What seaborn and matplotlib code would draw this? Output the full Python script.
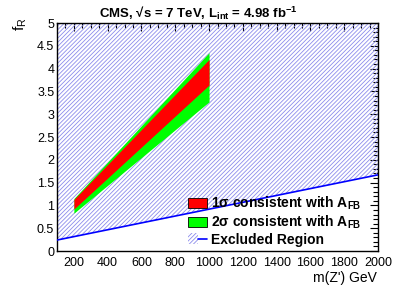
import matplotlib
matplotlib.use("Agg")
import matplotlib.pyplot as plt
import seaborn as sns
import numpy as np
from matplotlib.patches import Patch
from matplotlib.lines import Line2D
from matplotlib.legend_handler import HandlerTuple
from matplotlib.ticker import MultipleLocator

# ---- data ----
band_mass = [200, 1000]
sigma2_low = [0.83, 3.27]
sigma2_high = [1.15, 4.35]
sigma1_low = [0.92, 3.64]
sigma1_high = [1.13, 4.20]
excl_mass = [100, 2000]
excl_limit = [0.24, 1.67]
y_top = 5.0

legend_labels = [r"1$\mathbf{\sigma}$ consistent with A$_{\mathbf{FB}}$",
                 r"2$\mathbf{\sigma}$ consistent with A$_{\mathbf{FB}}$",
                 "Excluded Region"]

sns.set_theme(style="white")
plt.rcParams['font.family'] = ['Liberation Sans', 'DejaVu Sans']
plt.rcParams['mathtext.fontset'] = 'custom'
plt.rcParams['mathtext.rm'] = 'Liberation Sans'
plt.rcParams['mathtext.bf'] = 'Liberation Sans:bold'
plt.rcParams['mathtext.it'] = 'Liberation Sans:italic'
plt.rcParams['hatch.linewidth'] = 0.6
plt.rcParams['text.color'] = 'black'
plt.rcParams['xtick.color'] = 'black'
plt.rcParams['ytick.color'] = 'black'

fig = plt.figure(figsize=(4.07, 2.92), dpi=100)
ax = fig.add_axes([57/407, 41/292, 321/407, 228/292])

hatch_col = '#8c8cec'
hatch_pat = '////////'
ax.fill_between(excl_mass, excl_limit, [y_top, y_top], facecolor='none',
                edgecolor=hatch_col, linewidth=0, hatch=hatch_pat, zorder=1)
ax.fill_between(band_mass, sigma2_low, sigma2_high, color='#00ff00', linewidth=0, zorder=2)
ax.fill_between(band_mass, sigma1_low, sigma1_high, color='#ff0000', linewidth=0, zorder=3)
sns.lineplot(x=excl_mass, y=excl_limit, ax=ax, color='#0000ff', linewidth=1.2, zorder=4)

ax.set_xlim(100, 2000)
ax.set_ylim(0, 5)
ax.xaxis.set_minor_locator(MultipleLocator(50))
ax.yaxis.set_minor_locator(MultipleLocator(0.1))
ax.set_xticks(np.arange(200, 2001, 200))
ax.set_yticks(np.arange(0, 5.01, 0.5))
ax.set_yticklabels(['0', '0.5', '1', '1.5', '2', '2.5', '3', '3.5', '4', '4.5', '5'])
ax.tick_params(which='both', direction='in', top=True, right=True, colors='black',
               labelcolor='black', labelsize=9)
ax.tick_params(which='major', length=6, width=0.8)
ax.tick_params(which='minor', length=3.5, width=0.8)
ax.tick_params(axis='x', pad=4)
ax.tick_params(axis='y', pad=2)
for s in ax.spines.values():
    s.set_color('black')
    s.set_linewidth(1.0)

fig.text(198/407, 0.985, r"CMS, √s = 7 TeV, L$_{\mathbf{int}}$ = 4.98 fb$^{\mathbf{-1}}$",
         ha='center', va='top', fontsize=9.5, fontweight='bold', color='black')
fig.text(20/407, 0.94, r"f$_\mathrm{R}$", rotation=90, ha='center', va='top', fontsize=11,
         color='black')
fig.text(377/407, 0.025, "m(Z') GeV", ha='right', va='bottom', fontsize=10, color='black')

h1 = Patch(facecolor='#ff0000', edgecolor='black', linewidth=0.6)
h2 = Patch(facecolor='#00ff00', edgecolor='black', linewidth=0.6)
h3a = Patch(facecolor='none', edgecolor=hatch_col, linewidth=0, hatch=hatch_pat)
h3b = Line2D([], [], color='#0000ff', linewidth=1.2)
leg = ax.legend([h1, h2, (h3a, h3b)], legend_labels,
                handler_map={tuple: HandlerTuple(ndivide=None, pad=0)},
                loc='upper left', bbox_to_anchor=(188/407, 97/292),
                bbox_transform=fig.transFigure, frameon=False,
                prop={'weight': 'bold', 'size': 10},
                handlelength=1.4, handleheight=0.8, handletextpad=0.25,
                labelspacing=0.1, borderpad=0, borderaxespad=0)
for t in leg.get_texts():
    t.set_color('black')

fig.savefig("out.png", dpi=100)
